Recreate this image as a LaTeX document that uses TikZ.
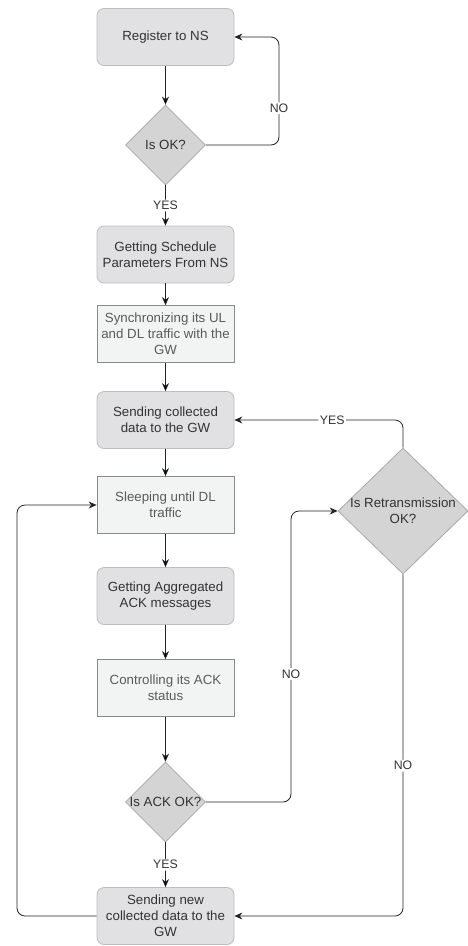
\documentclass[tikz,border=0pt]{standalone}
\usepackage{fontspec}
\setmainfont{Liberation Sans}
\usetikzlibrary{arrows.meta}
\usetikzlibrary{shapes.geometric}
\usetikzlibrary{positioning}

\definecolor{stepfill}{HTML}{E1E1E3}
\definecolor{stepline}{HTML}{BDBDBD}
\definecolor{steptext}{HTML}{333333}
\definecolor{waitfill}{HTML}{F2F3F3}
\definecolor{waitline}{HTML}{8A8A8A}
\definecolor{waittext}{HTML}{5A5A5A}
\definecolor{askfill}{HTML}{D4D4D4}
\definecolor{askline}{HTML}{A8A8A8}
\definecolor{flowline}{HTML}{222222}

\tikzset{
  stepbox/.style={draw=stepline, fill=stepfill, rounded corners=7pt, line width=0.8pt,
    minimum width=137pt, minimum height=57pt, inner xsep=1pt, align=center,
    text=steptext, font=\fontsize{13.3}{16}\selectfont},
  waitbox/.style={stepbox, rounded corners=0pt, draw=waitline, fill=waitfill, text=waittext},
  askbox/.style={diamond, aspect=1, draw=askline, fill=askfill, line width=0.8pt, inner sep=0pt,
    minimum width=80pt, minimum height=80pt},
  asktext/.style={text=steptext, align=center, font=\fontsize{13.3}{16}\selectfont},
  answer/.style={fill=white, inner sep=1.5pt, text=steptext, font=\fontsize{12.3}{14}\selectfont},
  flow/.style={->, draw=flowline, line width=0.8pt, rounded corners=8pt},
  >={Stealth[length=8pt,width=7pt]}
}

\begin{document}
\begin{tikzpicture}[x=1pt,y=-1pt]
  \useasboundingbox (0,0) rectangle (467,946);
  \node[stepbox] (reg) at (165.5,37) {Register to NS};
  \node[askbox, label={[asktext]center:Is OK?}] (ok) at (165.5,145) {};
  \node[stepbox] (sched) at (165.5,254.5) {Getting Schedule\\Parameters From NS};
  \node[waitbox] (sync) at (165.5,334) {Synchronizing its UL\\and DL traffic with the\\GW};
  \node[stepbox] (send) at (165.5,420) {Sending collected\\data to the GW};
  \node[waitbox] (sleep) at (165.5,505) {Sleeping until DL\\traffic};
  \node[stepbox] (aggr) at (165.5,596) {Getting Aggregated\\ACK messages};
  \node[waitbox] (ctrl) at (165.5,688) {Controlling its ACK\\status};
  \node[askbox, label={[asktext]center:Is ACK OK?}] (ack) at (165.5,802) {};
  \node[stepbox] (sendnew) at (165.5,916) {Sending new\\collected data to the\\GW};
  \node[askbox, minimum width=130pt, minimum height=126pt,
    label={[asktext]center:Is Retransmission\\OK?}] (retry) at (403,511) {};

  \coordinate (okturn) at (279,37);
  \coordinate (ackturn) at (291,511);
  \coordinate (loopturn) at (17,916);

  \path[flow] (reg) edge (ok);
  \path[flow] (ok) edge node[answer, pos=0.5] {YES} (sched);
  \path[flow] (sched) edge (sync);
  \path[flow] (sync) edge (send);
  \path[flow] (send) edge (sleep);
  \path[flow] (sleep) edge (aggr);
  \path[flow] (aggr) edge (ctrl);
  \path[flow] (ctrl) edge (ack);
  \path[flow] (ack) edge node[answer, pos=0.5] {YES} (sendnew);

  \draw[flow] (ok.east) -| node[answer, pos=0.67] {NO} (okturn) -- (reg.east);
  \draw[flow] (retry.north) |- node[answer, pos=0.71] {YES} (send.east);
  \draw[flow] (ack.east) -| node[answer, pos=0.72] {NO} (ackturn) -- (retry.west);
  \draw[flow] (retry.south) |- node[answer, pos=0.28] {NO} (sendnew.east);
  \draw[flow] (sendnew.west) -- (loopturn) |- (sleep.west);
\end{tikzpicture}
\end{document}
